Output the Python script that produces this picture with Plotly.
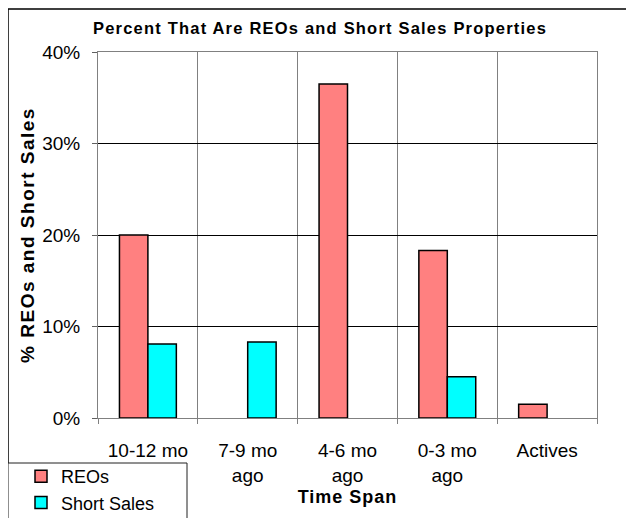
import plotly.graph_objects as go

categories = ["10-12 mo<br>ago", "7-9 mo<br>ago", "4-6 mo<br>ago", "0-3 mo<br>ago", "Actives"]
reo_values = [0.200, None, 0.365, 0.183, 0.015]
short_values = [0.081, 0.083, None, 0.045, None]
series_names = ["REOs", "Short Sales"]
title_text = "Percent That Are REOs and Short Sales Properties"
x_title = "Time Span"
y_title = "% REOs and Short Sales"

FONT = "Liberation Sans, Arial, sans-serif"
OFF = 8  # page body margin
W, H = 634 - OFF, 518 - OFF
L, T = 98 - OFF, 52 - OFF
pw, ph = 499, 366
R = W - L - pw
B = H - T - ph

def px_x(p):
    return (p - OFF - L) / pw

def px_y(p):
    return (H - B - (p - OFF)) / ph

fig = go.Figure()
fig.add_trace(go.Bar(
    x=categories, y=reo_values, name=series_names[0],
    marker=dict(color="#FF8080", line=dict(color="black", width=1.5)),
))
fig.add_trace(go.Bar(
    x=categories, y=short_values, name=series_names[1],
    marker=dict(color="#00FFFF", line=dict(color="black", width=1.5)),
))

fig.update_layout(
    width=W, height=H,
    margin=dict(l=L, r=R, t=T, b=B, pad=0, autoexpand=False),
    paper_bgcolor="white", plot_bgcolor="white",
    barmode="group", bargap=0.43, bargroupgap=0,
    font=dict(family=FONT, size=19, color="black"),
    title=dict(
        text='<span style="letter-spacing:1.2px"><b>' + title_text + '</b></span>',
        font=dict(family=FONT, size=16.5, color="black"),
        x=(320 - OFF) / W, xref="container", xanchor="center",
        y=1 - (28 - OFF) / H, yref="container", yanchor="middle",
    ),
    xaxis=dict(
        type="category", tickson="boundaries", automargin=False,
        showgrid=True, gridcolor="#808080", gridwidth=1,
        showline=True, linecolor="#808080", linewidth=1, mirror=True,
        ticks="outside", ticklen=5, tickcolor="#808080", tickwidth=1,
        tickfont=dict(family=FONT, size=19, color="black"),
        ticklabelstandoff=15,
        title=dict(text='<span style="letter-spacing:1px"><b>' + x_title + '</b></span>',
                   font=dict(family=FONT, size=18, color="black"), standoff=5),
        fixedrange=True,
    ),
    yaxis=dict(
        range=[0, 0.4], dtick=0.1, tickformat=".0%", automargin=False,
        showgrid=True, gridcolor="black", gridwidth=1, zeroline=False,
        showline=True, linecolor="#808080", linewidth=1, mirror=True,
        ticks="outside", ticklen=5, tickcolor="#606060", tickwidth=1,
        tickfont=dict(family=FONT, size=19, color="black"),
        ticklabelstandoff=8,
        title=dict(text='<span style="letter-spacing:1.5px"><b>' + y_title + '</b></span>',
                   font=dict(family=FONT, size=19, color="black"), standoff=2),
        fixedrange=True,
    ),
    legend=dict(
        x=px_x(21), y=px_y(458), xanchor="left", yanchor="top",
        bgcolor="rgba(0,0,0,0)", borderwidth=0,
        font=dict(family=FONT, size=18, color="black"),
        tracegroupgap=0, itemwidth=30,
    ),
    shapes=[
        dict(
            type="rect", xref="paper", yref="paper",
            x0=px_x(8), y0=px_y(600), x1=px_x(700), y1=px_y(9),
            line=dict(color="black", width=1.5), fillcolor="rgba(0,0,0,0)", layer="below",
        ),
        dict(
            type="rect", xref="paper", yref="paper",
            x0=px_x(8), y0=px_y(540), x1=px_x(187), y1=px_y(463),
            line=dict(color="#202020", width=1), fillcolor="white", layer="above",
        ),
    ],
    showlegend=True,
)

fig.write_html("out.html", config={"displayModeBar": False})
